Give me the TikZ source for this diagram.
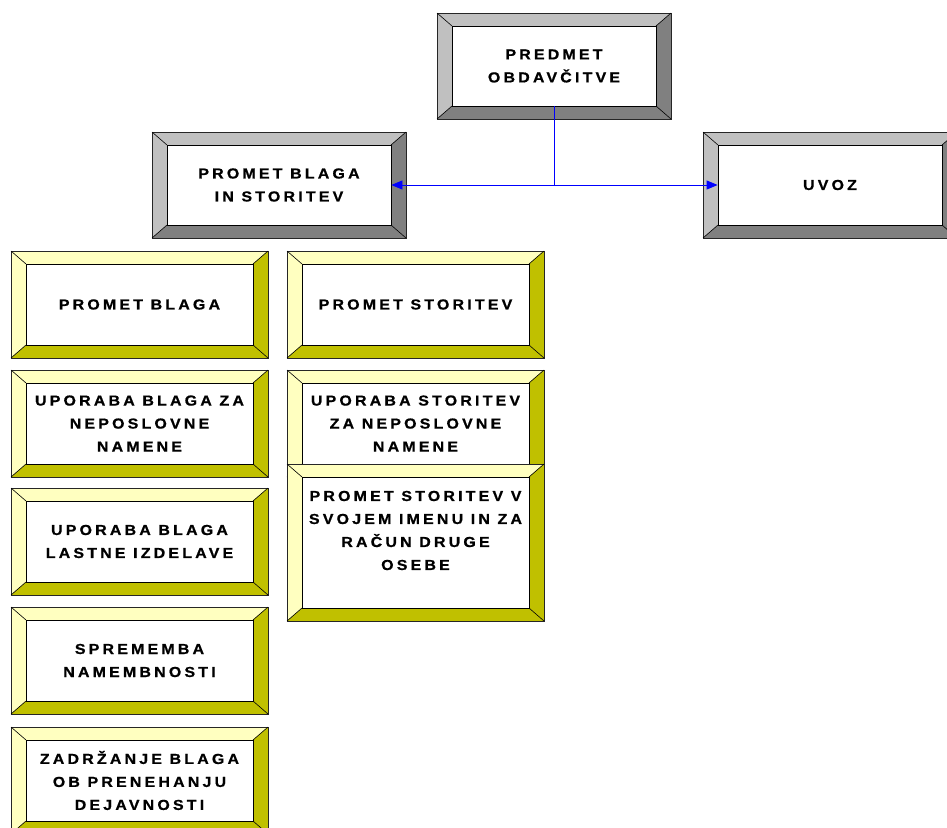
\documentclass[tikz,border=0pt]{standalone}
\usepackage{fontspec}
\usetikzlibrary{arrows.meta}
\newfontfamily\boxfont[FakeStretch=1.1, LetterSpace=22, FakeBold=0.8]{Liberation Sans Bold}
\definecolor{gtop}{HTML}{C0C0C0}
\definecolor{gdark}{HTML}{808080}
\definecolor{ytop}{HTML}{FFFFC0}
\definecolor{ydark}{HTML}{C0C000}
\begin{document}
\begin{tikzpicture}[x=1pt,y=-1pt,
  boxtext/.style={font=\boxfont\fontsize{14.5}{23}\selectfont, align=center, inner sep=0pt},
  link/.style={blue, line width=0.8pt, -{Triangle[length=11pt,width=9pt]}}]
\useasboundingbox (0,0) rectangle (947,827);
\def\bev#1#2#3#4#5#6#7#8{
\def\bw{15}
\def\bh{13}
\fill[#5top] (#1,#2) -- +(#3,0) -- +(#3-\bw,\bh) -- +(\bw,\bh) -- cycle;
\fill[#5top] (#1,#2) -- +(\bw,\bh) -- +(\bw,#4-\bh) -- +(0,#4) -- cycle;
\fill[#5dark] (#1+#3,#2) -- +(0,#4) -- +(-\bw,#4-\bh) -- +(-\bw,\bh) -- cycle;
\fill[#5dark] (#1,#2+#4) -- +(#3,0) -- +(#3-\bw,-\bh) -- +(\bw,-\bh) -- cycle;
\draw[black!85, line width=0.6pt] (#1,#2) rectangle +(#3,#4);
\draw[black, line width=0.6pt] (#1,#2) -- +(\bw,\bh) (#1+#3,#2) -- +(-\bw,\bh)
  (#1,#2+#4) -- +(\bw,-\bh) (#1+#3,#2+#4) -- +(-\bw,-\bh);
\node [draw, fill=white, line width=0.8pt, inner sep=0pt,
  minimum width={(#3-2*\bw)*1pt}, minimum height={(#4-2*\bh)*1pt}] (#6) at (#1+#3/2,#2+#4/2) {};
\node [boxtext, yshift=#8pt] (#6-t) at (#6) {#7};
}
% top
\bev{437}{13}{234}{106}{g}{obj}{PREDMET\\OBDAVČITVE}{0}
\bev{152}{132}{254}{106}{g}{blst}{PROMET BLAGA\\IN STORITEV}{0}
\bev{703}{132}{254}{106}{g}{uvoz}{UVOZ}{0}
% goods
\bev{11}{251}{257}{107}{y}{pb}{PROMET BLAGA}{0}
\bev{11}{370}{257}{107}{y}{ubn}{UPORABA BLAGA ZA\\NEPOSLOVNE\\NAMENE}{0}
\bev{11}{488}{257}{107}{y}{ubl}{UPORABA BLAGA\\LASTNE IZDELAVE}{0}
\bev{11}{607}{257}{107}{y}{sn}{SPREMEMBA\\NAMEMBNOSTI}{0}
\bev{11}{727}{257}{107}{y}{zb}{ZADRŽANJE BLAGA\\OB PRENEHANJU\\DEJAVNOSTI}{0}
% services
\bev{287}{251}{257}{107}{y}{ps}{PROMET STORITEV}{0}
\bev{287}{370}{257}{107}{y}{usn}{UPORABA STORITEV\\ZA NEPOSLOVNE\\NAMENE}{0}
\bev{287}{464}{257}{157}{y}{psv}{PROMET STORITEV V\\SVOJEM IMENU IN ZA\\RAČUN DRUGE\\OSEBE}{12}
\draw[link] (obj.south) |- (blst.east);
\draw[link] (obj.south) |- (uvoz.west);
\end{tikzpicture}
\end{document}
